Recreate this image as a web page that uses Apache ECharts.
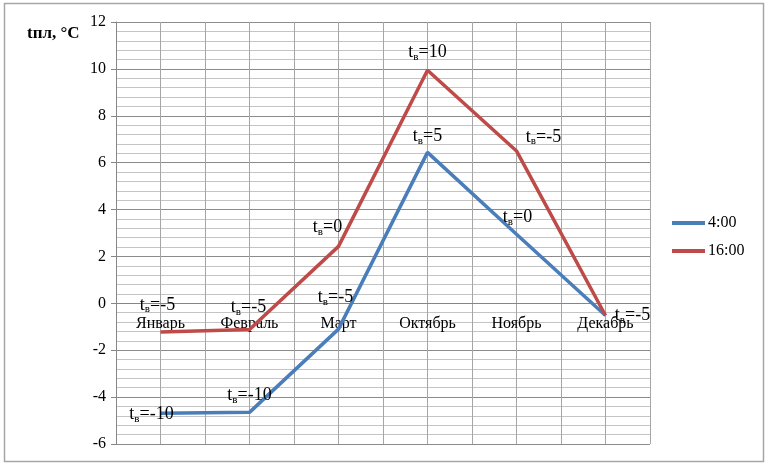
<!DOCTYPE html>
<html>
<head>
<meta charset="utf-8">
<script src="https://cdn.jsdelivr.net/npm/echarts@6/dist/echarts.min.js"></script>
<style>
html,body{margin:0;padding:0;background:#fff;}
#c{width:768px;height:468px;}
</style>
</head>
<body>
<div id="c"></div>
<script>
const categories = ['Январь', 'Февраль', 'Март', 'Октябрь', 'Ноябрь', 'Декабрь'];
const seriesNames = ['4:00', '16:00'];
const values4 = [-4.69, -4.65, -1.1, 6.44, 2.95, -0.52];
const values16 = [-1.22, -1.12, 2.43, 9.94, 6.5, -0.52];
const labels4 = ['-10', '-10', '-5', '5', '0', '-5'];
const labels16 = ['-5', '-5', '0', '10', '-5', ''];
const yTicks = { min: -6, max: 12, interval: 2 };
const halfCats = ['a','b','c','d','e','f','g','h','i','j','k','l'];

const FONT = "'Liberation Serif','Times New Roman',serif";
const BLUE = '#4a7ebb';
const RED = '#be4b48';

// label offsets (px) relative to the point
const off4 = [[-9,0],[0,-18],[-3,-33],[0,-17],[1,-18],[27,-1]];
const off16 = [[-3,-28],[-1,-23],[-11,-20],[0,-19],[27,-15],[0,0]];

const rich = {
  t: { fontFamily: FONT, fontSize: 18, color: '#000', lineHeight: 20, verticalAlign: 'bottom' },
  s: { fontFamily: FONT, fontSize: 11, color: '#000', lineHeight: 20, verticalAlign: 'bottom', padding: [0,0,-1,0] }
};

function mkData(vals, labs, offs) {
  return vals.map((v, i) => ({
    value: v,
    label: labs[i] === '' ? { show: false } : {
      show: true,
      position: 'inside',
      offset: offs[i],
      formatter: '{t|t}{s|в}{t|=' + labs[i] + '}',
      rich: rich
    }
  }));
}

const GRID_TOP = 22, GRID_BOTTOM = 24, H = 468;
const plotH = H - GRID_TOP - GRID_BOTTOM;
const zeroShift = plotH * (0 - yTicks.min) / (yTicks.max - yTicks.min);

const chart = echarts.init(document.getElementById('c'));
chart.setOption({
  animation: false,
  backgroundColor: '#fff',
  grid: { left: 116, right: 118, top: GRID_TOP, bottom: GRID_BOTTOM, containLabel: false },
  xAxis: [{
    type: 'category',
    data: categories,
    boundaryGap: true,
    position: 'bottom',
    offset: -zeroShift,
    axisLine: { show: true, onZero: false, lineStyle: { color: '#868686', width: 1 } },
    axisTick: { show: false },
    axisLabel: { fontFamily: FONT, fontSize: 16, color: '#000', margin: 12 },
    splitLine: { show: false }
  }, {
    type: 'category',
    data: halfCats,
    boundaryGap: true,
    position: 'top',
    axisLine: { show: false, onZero: false },
    axisTick: { show: false },
    axisLabel: { show: false },
    splitLine: { show: true, lineStyle: { color: '#a6a6a6', width: 1 } }
  }],
  yAxis: {
    type: 'value',
    min: yTicks.min, max: yTicks.max, interval: yTicks.interval,
    axisLine: { show: true, onZero: false, lineStyle: { color: '#868686', width: 1 } },
    axisTick: { show: true, length: 5, lineStyle: { color: '#868686' } },
    axisLabel: { fontFamily: FONT, fontSize: 16, color: '#000', margin: 10 },
    splitLine: { show: true, lineStyle: { color: '#8c8c8c', width: 1 } },
    minorTick: { show: false, splitNumber: 5 },
    minorSplitLine: { show: true, lineStyle: { color: '#c4c4c4', width: 1 } }
  },
  legend: {
    orient: 'vertical',
    left: 667, top: 210,
    itemWidth: 33, itemHeight: 4, itemGap: 12,
    icon: 'rect',
    textStyle: { fontFamily: FONT, fontSize: 16, color: '#000', padding: [0,0,0,-2] },
    data: seriesNames
  },
  graphic: [{
    type: 'rect',
    shape: { x: 4.5, y: 3.5, width: 759, height: 458 },
    style: { fill: 'none', stroke: '#a6a6a6', lineWidth: 1.5 },
    silent: true, z: 0
  }, {
    type: 'text',
    left: 27, top: 25,
    style: { text: 'tпл, °C', fontFamily: FONT, fontSize: 17, fontWeight: 'bold', fill: '#000' }
  }],
  series: [{
    name: seriesNames[0],
    type: 'line',
    xAxisIndex: 0,
    data: mkData(values4, labels4, off4),
    symbol: 'circle', symbolSize: 0.1, showSymbol: true,
    lineStyle: { color: BLUE, width: 3.5 },
    itemStyle: { color: BLUE },
    z: 3
  }, {
    name: seriesNames[1],
    type: 'line',
    xAxisIndex: 0,
    data: mkData(values16, labels16, off16),
    symbol: 'circle', symbolSize: 0.1, showSymbol: true,
    lineStyle: { color: RED, width: 3.5 },
    itemStyle: { color: RED },
    z: 4
  }]
});
</script>
</body>
</html>
